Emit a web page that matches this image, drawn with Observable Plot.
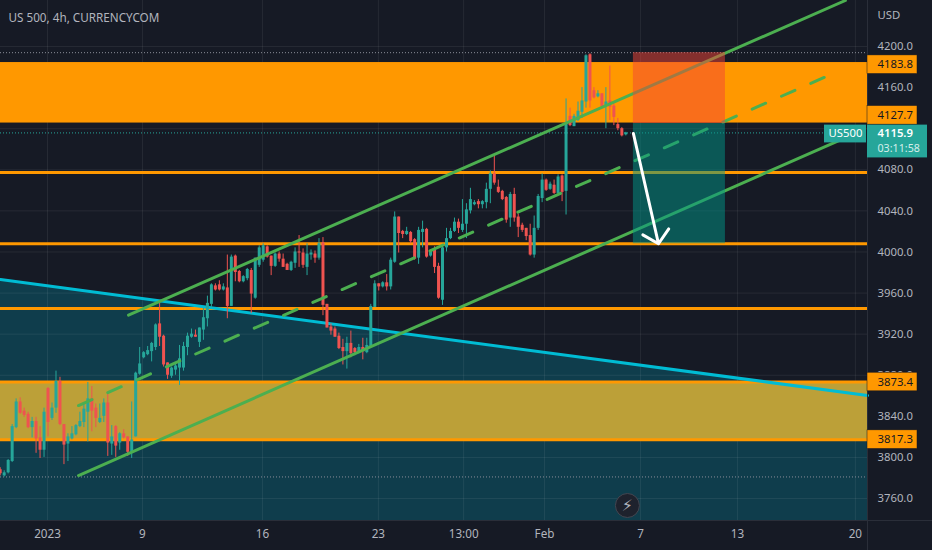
<!DOCTYPE html>
<html>
<head>
<meta charset="utf-8">
<script src="https://cdn.jsdelivr.net/npm/d3@7"></script>
<script src="https://cdn.jsdelivr.net/npm/@observablehq/plot@0.6"></script>
<style>
html,body{margin:0;padding:0;background:#161a25;overflow:hidden}
svg{display:block}
</style>
</head>
<body>
<div id="chart"></div>
<script>
// ---- chart values ----
const opens = [3788,3782,3785,3796,3829,3854,3845,3842,3829,3835,3819,3807,3867,3838,3848,3874,3832,3813,3818,3822,3830,3834,3844,3857,3848,3834,3840,3853,3813,3830,3814,3823,3820,3805,3820,3881,3897,3900,3903,3907,3930,3918,3892,3879,3885,3887,3887,3907,3917,3919,3912,3924,3935,3949,3967,3968,3963,3965,3947,3996,3981,3971,3974,3982,3955,3987,3992,4005,3996,3986,3998,3993,3988,3982,3989,4000,3999,3985,3997,3998,3994,4009,3949,3927,3925,3918,3907,3903,3911,3906,3903,3907,3902,3907,3946,3969,3966,3970,3966,3990,4034,4020,4017,4019,4012,3994,4019,4022,3996,4003,3986,3953,4004,4013,4020,4029,4021,4027,4040,4046,4049,4046,4048,4061,4076,4063,4059,4053,4033,4056,4034,4026,4023,4016,3997,4023,4052,4070,4061,4065,4057,4074,4059,4132,4122,4128,4136,4146,4192,4157,4151,4154,4142,4147,4142,4124,4120,4114];
const highs = [3790,3787,3798,3832,3857,3858,3848,3844,3839,3839,3830,3848,3868,3853,3884,3878,3832,3823,3830,3832,3844,3852,3873,3869,3852,3852,3857,3862,3831,3831,3824,3827,3820,3854,3883,3907,3903,3908,3912,3930,3951,3919,3892,3888,3891,3909,3912,3921,3925,3924,3926,3945,3957,3969,3969,3972,3969,3997,3997,3997,3982,3977,3984,3984,3994,4006,4008,4006,3996,3999,4000,3998,3989,3991,4004,4016,4003,4008,4002,4001,4013,4014,3949,3930,3927,3921,3915,3917,3923,3907,3910,3916,3916,3949,3972,3969,3971,3978,3994,4039,4034,4021,4024,4020,4013,4024,4030,4023,4002,4005,3989,4006,4023,4023,4033,4032,4051,4047,4062,4050,4051,4050,4067,4079,4094,4070,4060,4054,4058,4062,4037,4028,4023,4027,4035,4056,4076,4071,4068,4070,4075,4075,4149,4140,4134,4146,4160,4192,4193,4160,4157,4154,4160,4181,4144,4130,4121,4116.5];
const lows = [3782,3781,3784,3795,3828,3842,3839,3828,3819,3804,3799,3800,3820,3836,3843,3831,3793,3796,3817,3821,3829,3829,3815,3825,3829,3833,3834,3801,3802,3800,3807,3818,3801,3799,3820,3880,3896,3899,3893,3904,3908,3888,3876,3877,3880,3870,3884,3899,3916,3917,3907,3914,3927,3946,3962,3962,3962,3935,3947,3971,3970,3970,3972,3940,3954,3985,3990,3994,3977,3985,3990,3985,3982,3981,3984,3985,3984,3977,3992,3989,3992,3938,3926,3919,3917,3905,3890,3886,3897,3899,3901,3895,3901,3906,3946,3962,3965,3962,3963,3989,3999,4013,4016,4008,3992,3988,4004,3994,3995,3979,3954,3948,4000,4012,4019,4018,4019,4013,4037,4045,4042,4042,4042,4047,4065,4057,4050,4028,4024,4029,4014,4019,4011,3996,3994,4021,4048,4059,4060,4056,4056,4049,4036,4122,4122,4127,4130,4140,4140,4149,4150,4140,4120,4128,4123,4118,4112,4113];
const closes = [3784,3785,3797,3830,3854,3843,3841,3829,3835,3818,3807,3844,3834,3848,3874,3832,3812,3820,3823,3831,3835,3847,3857,3845,3838,3838,3853,3814,3820,3811,3823,3819,3805,3817,3882,3891,3902,3904,3911,3929,3917,3890,3880,3887,3889,3896,3908,3918,3920,3917,3926,3936,3950,3968,3963,3963,3966,3947,3995,3980,3971,3976,3983,3959,3994,4004,4006,3995,3986,3998,3993,3985,3982,3990,4000,3999,3987,3998,3999,3994,4008,3948,3926,3923,3917,3906,3903,3911,3901,3902,3907,3903,3909,3947,3969,3966,3970,3966,3992,4034,4018,4017,4020,4010,3993,4021,4022,3995,4001,3985,3955,4004,4013,4020,4029,4023,4027,4041,4051,4048,4046,4049,4061,4076,4067,4058,4051,4031,4056,4033,4024,4021,4015,3997,4023,4054,4070,4060,4066,4057,4073,4058,4126,4123,4132,4137,4147,4191,4147,4150,4154,4141,4146,4141,4131,4120,4113,4115.9];

const priceTicks = [4200,4160,4120,4080,4040,4000,3960,3920,3880,3840,3800,3760];
const hiddenPriceTicks = [4120];
const timeTickBars = [11.87,35.7,65.8,94.9,116.3,136.6,160.7,185,214.6];
const timeTickLabels = ["2023","9","16","23","13:00","Feb","7","13","20"];

const supportLevels = [4077.4,4008,3945];
const lastPrice = 4115.9;
const dottedLevels = [4194,3781];

const upperZone = {top:4184.4, bottom:4125.5};
const lowerZone = {top:3873.4, bottom:3817.3};

const trendBars = [0.075,217.65];
const trendPrices = [3973.2,3860.3];

const upperChannel = [32.2,3938.5,212.1,4244.8];
const lowerChannel = [19.65,3782.4,211.6,4110.4];
const middleChannel = [19.65,3850.5,209.6,4174.7];

const riskBars = [158.9,182];
const stopPrice = 4194, entryPrice = 4125, targetPrice = 4008;
const arrowFrom = {bar:158.9, price:4115.3};
const arrowTo = {bar:165.2, price:4008};

const orangeTags = [
  {text:"4183.8", price:4182.3},
  {text:"4127.7", price:4133},
  {text:"3873.4", price:3873.4},
  {text:"3817.3", price:3817.3}
];

// ---- scales ----
const pxW = 932, pxH = 550, mR = 65, mB = 30;
const xDomain = [0.075,217.65];
const yDomain = [3738.6,4244.8];
const barsPerPx = (xDomain[1]-xDomain[0])/(pxW-mR);
const pricePerPx = (yDomain[1]-yDomain[0])/(pxH-mB);
const xEnd = xDomain[1];
const xFar = xEnd + mR*barsPerPx;
const yFar = yDomain[0] - mB*pricePerPx;

const bars = opens.map((o,i)=>({i,o,h:highs[i],l:lows[i],c:closes[i],col:closes[i]>=o?"#26a69a":"#ef5350"}));
const FONT = "'Noto Sans',sans-serif";
const axisFill = "#b2b5be";
const labelSize = 11.3;

const channel = (c)=>[{x:c[0],y:c[1]},{x:c[2],y:c[3]}];
const tagH = 9.3*pricePerPx;

const chart = Plot.plot({
  width:pxW, height:pxH,
  marginTop:0, marginLeft:0, marginRight:mR, marginBottom:mB,
  style:{background:"#161a25",fontFamily:FONT,fontSize:"11.5px"},
  x:{type:"linear",domain:xDomain,axis:null},
  y:{type:"linear",domain:yDomain,axis:null},
  marks:[
    // area under the falling trend line
    Plot.areaY(trendBars.map((b,i)=>({b,t:trendPrices[i]})),{x:"b",y1:()=>yDomain[0],y2:"t",fill:"#0f3d4c"}),
    // grid
    Plot.ruleX(timeTickBars,{stroke:"#fff",strokeOpacity:0.07}),
    Plot.ruleY(priceTicks,{x1:xDomain[0],x2:xEnd,stroke:"#fff",strokeOpacity:0.07}),
    // dotted level lines
    Plot.ruleY(dottedLevels,{x1:xDomain[0],x2:xEnd,stroke:"#8a8e99",strokeWidth:1,strokeDasharray:"1,2"}),
    // zones
    Plot.rectY([upperZone],{x1:xDomain[0],x2:xEnd,y1:"bottom",y2:"top",fill:"#ff9800"}),
    Plot.rectY([lowerZone],{x1:xDomain[0],x2:xEnd,y1:"bottom",y2:"top",fill:"#bca038"}),
    Plot.ruleY([lowerZone.top,lowerZone.bottom],{x1:xDomain[0],x2:xEnd,stroke:"#ff9800",strokeWidth:3}),
    Plot.ruleY(supportLevels,{x1:xDomain[0],x2:xEnd,stroke:"#ff9800",strokeWidth:3}),
    Plot.ruleY([lastPrice],{x1:xDomain[0],x2:xEnd,stroke:"#26a69a",strokeWidth:1,strokeDasharray:"1,2"}),
    // trend line
    Plot.line(trendBars.map((b,i)=>({b,t:trendPrices[i]})),{x:"b",y:"t",stroke:"#00bcd4",strokeWidth:3}),
    // candles
    Plot.ruleX(bars,{x:"i",y1:"l",y2:"h",stroke:"col",strokeWidth:1}),
    Plot.ruleX(bars,{x:"i",y1:"o",y2:"c",stroke:"col",strokeWidth:3}),
    // channel
    Plot.line(channel(upperChannel),{x:"x",y:"y",stroke:"#4caf50",strokeWidth:3}),
    Plot.line(channel(lowerChannel),{x:"x",y:"y",stroke:"#4caf50",strokeWidth:3}),
    Plot.line(channel(middleChannel),{x:"x",y:"y",stroke:"#4caf50",strokeWidth:3,strokeDasharray:"14.7,17.3"}),
    // risk / reward boxes
    Plot.rect([0],{x1:riskBars[0],x2:riskBars[1],y1:entryPrice,y2:stopPrice,fill:"#f44336",fillOpacity:0.5}),
    Plot.rect([0],{x1:riskBars[0],x2:riskBars[1],y1:targetPrice,y2:entryPrice,fill:"#009688",fillOpacity:0.5}),
    // arrow
    Plot.arrow([0],{x1:arrowFrom.bar,y1:arrowFrom.price,x2:arrowTo.bar,y2:arrowTo.price,bend:0,stroke:"#fff",strokeWidth:3,headLength:9,headAngle:95}),
    // logo
    Plot.dot([0],{x:157.4,y:3753.2,r:12,fill:"#1e222d",stroke:"#434651",strokeWidth:1}),
    Plot.text(["⚡"],{x:157.4,y:3753.2,fill:"#b2b5be",fontSize:16,fontFamily:"'DejaVu Sans'"}),
    // frame lines
    Plot.ruleX([xEnd],{y1:yFar,y2:yDomain[1],stroke:"#2a2e39"}),
    Plot.ruleY([yDomain[0]],{x1:xDomain[0],x2:xFar,stroke:"#2a2e39"}),
    // axes
    Plot.text(priceTicks.filter(p=>!hiddenPriceTicks.includes(p)),{x:xEnd+10*barsPerPx,y:d=>d,text:d=>d.toFixed(1),textAnchor:"start",fill:axisFill,fontSize:labelSize}),
    Plot.text(timeTickBars,{x:d=>d,y:yDomain[0]-14*pricePerPx,text:(d,i)=>timeTickLabels[i],fill:axisFill,fontSize:labelSize+0.4}),
    Plot.text(["USD"],{x:xEnd+10*barsPerPx,y:yDomain[1]-15*pricePerPx,textAnchor:"start",fill:axisFill,fontSize:labelSize}),
    Plot.text(["US 500, 4h, CURRENCYCOM"],{x:xDomain[0]+8*barsPerPx,y:yDomain[1]-18*pricePerPx,textAnchor:"start",fill:axisFill,fontSize:11.7}),
    // price tags
    Plot.rect(orangeTags,{x1:xEnd,x2:xEnd+50*barsPerPx,y1:d=>d.price-tagH,y2:d=>d.price+tagH,fill:"#ff9800",stroke:"#131722",strokeWidth:0.5}),
    Plot.text(orangeTags,{x:xEnd+10*barsPerPx,y:"price",text:"text",textAnchor:"start",fill:"#131722",fontSize:labelSize}),
    Plot.rect([0],{x1:xEnd,x2:xEnd+60*barsPerPx,y1:lastPrice+7.8*pricePerPx,y2:lastPrice-25*pricePerPx,fill:"#26a69a"}),
    Plot.text(["4115.9"],{x:xEnd+10*barsPerPx,y:lastPrice,textAnchor:"start",fill:"#fff",fontSize:labelSize,fontWeight:600}),
    Plot.text(["03:11:58"],{x:xEnd+10*barsPerPx,y:lastPrice-16*pricePerPx,textAnchor:"start",fill:"#d5eeea",fontSize:labelSize-0.6}),
    Plot.rect([0],{x1:xEnd-43*barsPerPx,x2:xEnd-1*barsPerPx,y1:lastPrice+7.8*pricePerPx,y2:lastPrice-10*pricePerPx,fill:"#26a69a"}),
    Plot.text(["US500"],{x:xEnd-22*barsPerPx,y:lastPrice,fill:"#fff",fontSize:labelSize})
  ]
});
document.getElementById("chart").appendChild(chart);
</script>
</body>
</html>
